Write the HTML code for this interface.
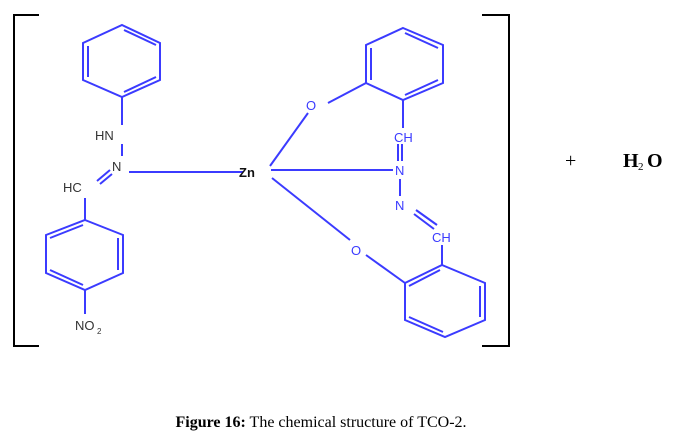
<!DOCTYPE html>
<html><head><style>
body{margin:0;background:#fff;width:678px;height:437px;overflow:hidden;position:relative}
svg{position:absolute;left:0;top:0}
.cap{position:absolute;top:414px;left:0;width:642px;text-align:center;font:16px "Liberation Serif",serif;color:#000}
</style></head><body>
<svg width="678" height="437" viewBox="0 0 678 437">
<g stroke="#000" stroke-width="2" fill="none">
<polyline points="39,15 14,15 14,346 39,346"/>
<polyline points="482,15 509,15 509,346 482,346"/>
</g>
<g stroke="#3b3bff" stroke-width="2" fill="none">
<polygon points="122,25 160,43 160,80 122,97 83,80 83,43"/>
<line x1="124" y1="30" x2="156" y2="45"/><line x1="156" y1="77" x2="124" y2="92"/><line x1="88" y1="46" x2="88" y2="77"/>
<line x1="122" y1="97" x2="122" y2="125"/>
<line x1="122" y1="144" x2="122" y2="156"/>
<line x1="97" y1="181" x2="110" y2="170"/><line x1="100" y1="184" x2="112" y2="174"/>
<line x1="129" y1="172" x2="243" y2="172"/>
<polygon points="85,220 123,235 123,273 85,290 46,273 46,235"/>
<line x1="83" y1="225" x2="50" y2="238"/><line x1="118" y1="238" x2="118" y2="270"/><line x1="50" y1="270" x2="83" y2="285"/>
<line x1="85" y1="198" x2="85" y2="220"/>
<line x1="85" y1="290" x2="85" y2="314"/>
<polygon points="403,28 443,45 443,83 403,100 366,83 366,45"/>
<line x1="405" y1="33" x2="438" y2="48"/><line x1="438" y1="80" x2="405" y2="95"/><line x1="371" y1="48" x2="371" y2="80"/>
<line x1="328" y1="103" x2="366" y2="83"/>
<line x1="270" y1="166" x2="308" y2="113"/>
<line x1="403" y1="100" x2="403" y2="128"/>
<line x1="398" y1="144" x2="398" y2="161"/><line x1="402" y1="144" x2="402" y2="161"/>
<line x1="271" y1="170" x2="393" y2="170"/>
<line x1="400" y1="179" x2="400" y2="196"/>
<line x1="416" y1="210" x2="437" y2="225"/><line x1="414" y1="214" x2="434" y2="229"/>
<line x1="442" y1="245" x2="442" y2="265"/>
<line x1="272" y1="178" x2="350" y2="240"/>
<line x1="366" y1="255" x2="405" y2="283"/>
<polygon points="442,265 485,283 485,320 445,337 405,320 405,283"/>
<line x1="440" y1="270" x2="409" y2="286"/><line x1="480" y1="286" x2="480" y2="317"/><line x1="409" y1="317" x2="443" y2="332"/>
</g>
<g font-family="Liberation Sans, sans-serif" font-size="13" fill="#333">
<text x="95" y="140">HN</text>
<text x="112" y="171">N</text>
<text x="63" y="192">HC</text>
<text x="75" y="330">NO</text><text x="97" y="334" font-size="8">2</text>
<text x="239" y="177" font-weight="bold" fill="#111">Zn</text>
</g>
<g font-family="Liberation Sans, sans-serif" font-size="13" fill="#3b3bff">
<text x="306" y="110">O</text>
<text x="394" y="142">CH</text>
<text x="395" y="175">N</text>
<text x="395" y="210">N</text>
<text x="432" y="242">CH</text>
<text x="351" y="255">O</text>
</g>
<g font-family="Liberation Serif, serif" font-size="20" fill="#000">
<text x="565" y="167">+</text>
<text x="623" y="167" font-weight="bold">H</text><text x="638" y="170" font-size="11">2</text><text x="647" y="167" font-weight="bold">O</text>
</g>
</svg>
<div class="cap"><b>Figure 16:</b> The chemical structure of TCO-2.</div>
</body></html>
